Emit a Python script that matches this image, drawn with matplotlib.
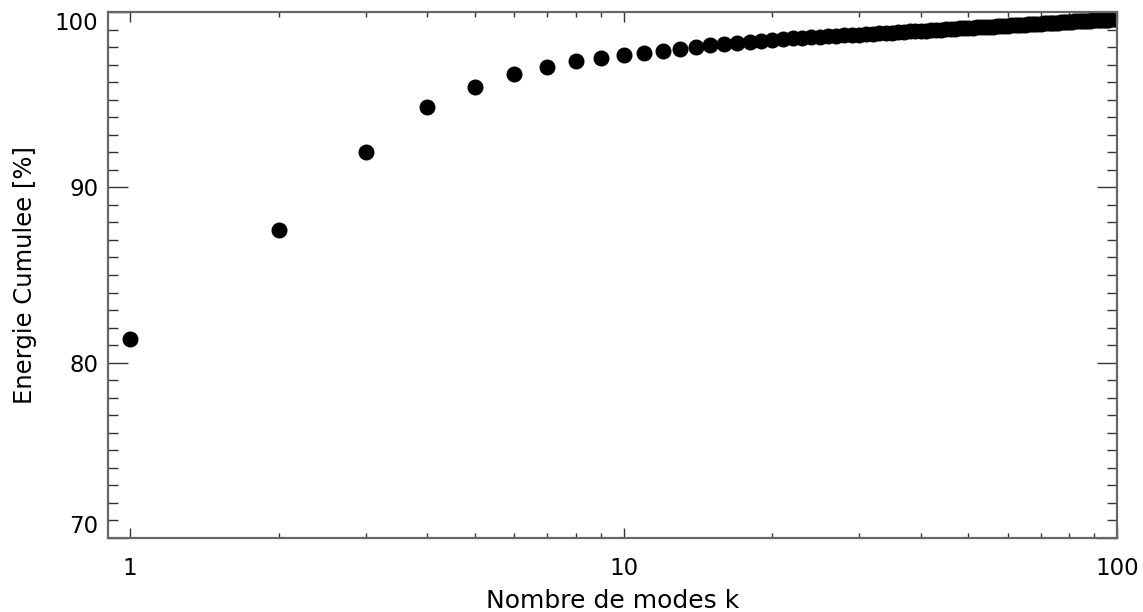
import numpy as np
import matplotlib
matplotlib.use("Agg")
import matplotlib.pyplot as plt
from matplotlib.ticker import FixedLocator, NullFormatter

# nombre de modes k = 1..100
modes = list(range(1, 101))
# energie cumulee [%]
energie = [
    81.34, 87.59, 92.01, 94.57, 95.73, 96.45, 96.85, 97.18, 97.39, 97.56,
    97.67, 97.80, 97.90, 97.99, 98.09, 98.16, 98.22, 98.30, 98.36, 98.41,
    98.45, 98.50, 98.52, 98.55, 98.58, 98.61, 98.64, 98.66, 98.69, 98.71,
    98.74, 98.76, 98.78, 98.81, 98.83, 98.85, 98.87, 98.89, 98.91, 98.93,
    98.94, 98.96, 98.98, 99.00, 99.01, 99.03, 99.04, 99.06, 99.08, 99.09,
    99.11, 99.12, 99.13, 99.15, 99.16, 99.17, 99.19, 99.20, 99.21, 99.23,
    99.24, 99.25, 99.26, 99.27, 99.28, 99.30, 99.31, 99.32, 99.33, 99.34,
    99.35, 99.36, 99.37, 99.38, 99.39, 99.40, 99.41, 99.42, 99.43, 99.44,
    99.45, 99.46, 99.47, 99.47, 99.48, 99.49, 99.50, 99.51, 99.52, 99.53,
    99.53, 99.54, 99.55, 99.56, 99.57, 99.57, 99.58, 99.59, 99.60, 99.60,
]
xticks = [1, 10, 100]
xlabels = ["1", "10", "100"]
yticks = [70, 80, 90, 100]

plt.rcParams['font.family'] = ['DejaVu Sans']

W, H = 1143, 612
fig = plt.figure(figsize=(W / 100, H / 100), dpi=100)
ax = fig.add_axes([108 / W, 1 - 538 / H, (1117 - 108) / W, (538 - 12) / H])

ax.plot(modes, energie, 'o', color='black', markersize=10.5, clip_on=True)

ax.set_xscale('log')
ax.set_xlim(0.902, 100)
ax.set_ylim(70, 100)

ax.xaxis.set_major_locator(FixedLocator(xticks))
ax.set_xticklabels(xlabels)
minors = [m * d for d in (1, 10) for m in range(2, 10)]
ax.xaxis.set_minor_locator(FixedLocator(minors))
ax.xaxis.set_minor_formatter(NullFormatter())

ax.set_yticks(yticks)
ax.yaxis.set_minor_locator(FixedLocator(np.arange(70, 101, 1)))

for s in ax.spines.values():
    s.set_color('#666666')
    s.set_linewidth(1.6)

ax.tick_params(axis='both', which='both', direction='in', top=True, right=True,
               color='#333333', width=1.0, labelsize=16.5)
ax.tick_params(axis='y', which='major', length=14.4, pad=7)
ax.tick_params(axis='y', which='minor', length=7.2)
ax.tick_params(axis='x', which='major', length=7.2, pad=14)
ax.tick_params(axis='x', which='minor', length=3.3)

ylabs = ax.get_yticklabels()
ylabs[0].set_va('bottom')
ylabs[-1].set_va('top')

ax.set_xlabel('Nombre de modes k', fontsize=18, labelpad=6)
ax.set_ylabel('Energie Cumulee [%]', fontsize=17.5, labelpad=13)

fig.savefig('out.png', dpi=100)
